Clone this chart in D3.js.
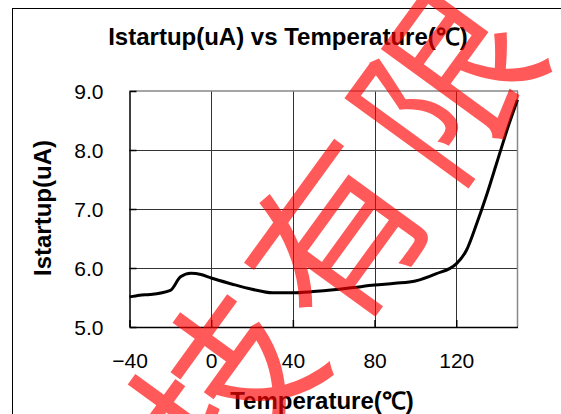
<!DOCTYPE html>
<html><head><meta charset="utf-8">
<script src="https://cdn.jsdelivr.net/npm/d3@7"></script>
<style>body{margin:0;background:#fff}svg{display:block}</style>
</head><body>
<svg id="c" width="561" height="414"></svg>
<script>
const temps = [-40,-35,-30,-20,-15,-10,-5,0,10,20,30,40,50,60,70,80,90,100,110,120,125,130,135,140,145,150];
const istartup = [5.51,5.54,5.55,5.62,5.85,5.91,5.89,5.83,5.73,5.64,5.58,5.58,5.60,5.63,5.67,5.71,5.74,5.78,5.90,6.07,6.30,6.75,7.25,7.80,8.35,8.85];
const xTicks = [-40,0,40,80,120];
const yTicks = [5,6,7,8,9];
const title = "Istartup(uA) vs Temperature(℃)";
const xTitle = "Temperature(℃)";
const yTitle = "Istartup(uA)";
const watermark = ["科","技","有","限","公","司"];

const svg = d3.select("#c");
const L = 129.5, R = 517.5, T = 91, B = 327;
const x = d3.scaleLinear().domain([-40,150]).range([L,R]);
const y = d3.scaleLinear().domain([5,9]).range([B,T]);
const font = "'Liberation Sans', Arial, sans-serif";

svg.append("rect").attr("x",12.5).attr("y",8.5).attr("width",700).attr("height",600)
  .attr("fill","#fff").attr("stroke","#000").attr("stroke-width",1);

svg.append("text").attr("x",288).attr("y",45).attr("text-anchor","middle")
  .attr("font-family",font).attr("font-weight","bold").attr("font-size",24).text(title);

// grid
const g = svg.append("g");
g.selectAll(".gx").data(xTicks.slice(1)).join("line")
  .attr("x1",d=>Math.round(x(d))+0.5).attr("x2",d=>Math.round(x(d))+0.5)
  .attr("y1",T).attr("y2",B).attr("stroke","#333").attr("stroke-width",1);
g.selectAll(".gy").data(yTicks.slice(1,-1)).join("line")
  .attr("x1",L).attr("x2",R).attr("y1",d=>Math.round(y(d))+0.5).attr("y2",d=>Math.round(y(d))+0.5)
  .attr("stroke","#333").attr("stroke-width",1);
svg.append("path").attr("d",`M${L},${T}H${R}V${B}`).attr("fill","none").attr("stroke","#888").attr("stroke-width",1.5);

// axes
const xAxis = d3.axisBottom(x).tickValues(xTicks).tickSizeInner(-7).tickSizeOuter(0).tickPadding(26).tickFormat(d3.format("d"));
const yAxis = d3.axisLeft(y).tickValues(yTicks).tickSizeInner(-7).tickSizeOuter(0).tickPadding(26).tickFormat(d3.format(".1f"));
const gx = svg.append("g").attr("transform",`translate(0,${B})`).call(xAxis);
const gy = svg.append("g").attr("transform",`translate(${L},0)`).call(yAxis);
[gx,gy].forEach(a=>{
  a.select(".domain").attr("stroke","#000").attr("stroke-width",1.5);
  a.selectAll(".tick line").attr("stroke","#000").attr("stroke-width",1.5);
  a.selectAll(".tick text").attr("font-family",font).attr("font-size",21).attr("fill","#000");
});
gy.selectAll(".tick text").attr("dy","0.36em");

// line
const line = d3.line().x((d,i)=>x(temps[i])).y(d=>y(d)).curve(d3.curveMonotoneX);
svg.append("path").datum(istartup).attr("d",line).attr("fill","none")
  .attr("stroke","#000").attr("stroke-width",3).attr("stroke-linejoin","round");

// axis titles
svg.append("text").attr("x",322).attr("y",409).attr("text-anchor","middle")
  .attr("font-family",font).attr("font-weight","bold").attr("font-size",24).text(xTitle);
svg.append("text").attr("transform","translate(51,208) rotate(-90)").attr("text-anchor","middle")
  .attr("font-family",font).attr("font-weight","bold").attr("font-size",24).text(yTitle);

// watermark
const wm = svg.append("g").attr("transform","translate(340,238) rotate(-54)");
wm.selectAll("text").data(watermark).join("text")
  .attr("x",(d,i)=>(i-2)*187).attr("y",0).attr("dy","0.35em").attr("text-anchor","middle")
  .attr("font-family","'Noto Sans CJK SC'").attr("font-size",175)
  .attr("fill","rgba(255,0,0,0.65)").text(d=>d);
</script>
</body></html>
